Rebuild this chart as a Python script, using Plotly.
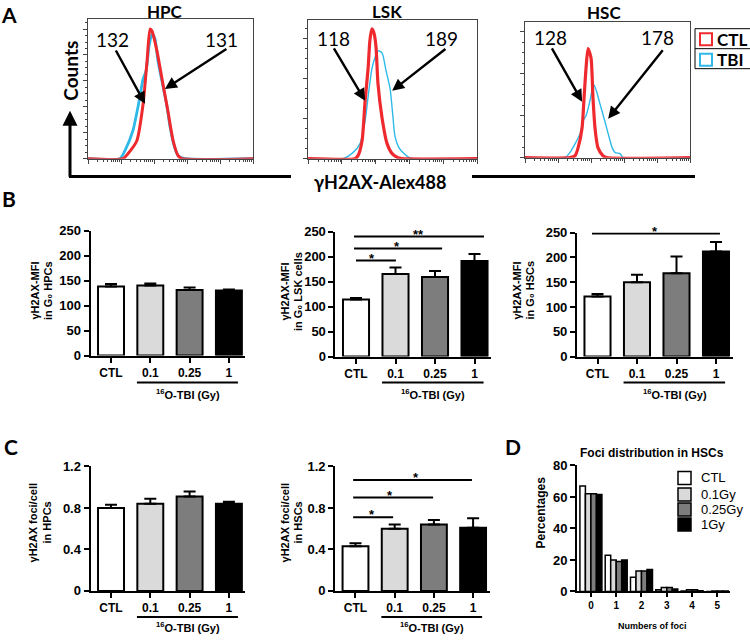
import numpy as np
import plotly.graph_objects as go

W, H = 750, 640
# measured vertical calibration of the rendered page (image_y = SY * page_y + OY)
SY, OY = 0.977, 6.3

# ---------------- Panel A : flow histograms (x in log decades, y in counts) ----------------
hpc_ctl_x = [0, 1.06, 1.21, 1.48, 1.67, 1.79, 1.88, 1.94, 2.09, 2.27, 2.42, 2.58, 2.73, 2.85, 5]
hpc_ctl_y = [0, 0, 3.8, 13.8, 42.3, 75.4, 100, 98.5, 83, 57.7, 36.9, 13.8, 2.3, 0, 0]
hpc_tbi_x = [0, 0.97, 1.12, 1.36, 1.55, 1.67, 1.76, 1.85, 1.94, 2.03, 2.12, 2.27, 2.39, 2.48, 2.61, 2.73, 2.94, 5]
hpc_tbi_y = [0, 0, 6.2, 21.5, 44.6, 61.5, 67.7, 86.9, 96.2, 92.3, 75.4, 56.2, 40.8, 25.4, 10, 2.3, 0, 0]

lsk_ctl_x = [0, 1.39, 1.48, 1.60, 1.69, 1.78, 1.83, 1.89, 1.95, 2.01, 2.07, 2.19, 2.34, 2.49, 2.66, 2.78, 5]
lsk_ctl_y = [0, 0, 3.8, 22.5, 72.5, 113.8, 147.5, 162.5, 157.5, 141, 93.8, 51.3, 18.8, 6.3, 1.3, 0, 0]
lsk_tbi_x = [0, 1.04, 1.33, 1.54, 1.69, 1.80, 1.89, 1.98, 2.07, 2.19, 2.31, 2.43, 2.51, 2.57, 2.69, 2.84, 2.99, 3.11, 5]
lsk_tbi_y = [0, 0, 7.5, 18.8, 47.5, 85, 112.5, 126.3, 135, 132.5, 110, 87.5, 53.8, 28.8, 13.8, 6.3, 1.3, 0, 0]

hsc_ctl_x = [0, 1.36, 1.52, 1.61, 1.73, 1.79, 1.85, 1.91, 2.0, 2.06, 2.12, 2.21, 2.36, 2.48, 5]
hsc_ctl_y = [0, 0, 2.4, 11.9, 35.7, 71.4, 107, 129.8, 119, 71.4, 35.7, 11.9, 2.4, 0, 0]
hsc_tbi_x = [0, 1.21, 1.36, 1.52, 1.67, 1.76, 1.85, 1.97, 2.03, 2.09, 2.18, 2.27, 2.39, 2.52, 2.64, 2.73, 2.88, 2.97, 5]
hsc_tbi_y = [0, 0, 6, 16.7, 28.6, 44, 50, 67.9, 79.8, 86.9, 77.4, 64.3, 47.6, 28.6, 11.9, 6, 4.8, 0, 0]

mfi_labels = ["132", "131", "118", "189", "128", "178"]
hist_titles = ["HPC", "LSK", "HSC"]

# ---------------- Panels B / C : bar data ----------------
dose_labels = ["CTL", "0.1", "0.25", "1"]
b_hpc_mean = [138, 140, 131, 130]
b_hpc_err = [5, 4, 5, 2]
b_lsk_mean = [114, 165, 159, 191]
b_lsk_err = [3, 13, 12, 14]
b_hsc_mean = [121, 150, 168, 212]
b_hsc_err = [5, 15, 34, 19]

c_hpc_mean = [0.80, 0.84, 0.91, 0.84]
c_hpc_err = [0.03, 0.05, 0.05, 0.02]
c_hsc_mean = [0.43, 0.60, 0.64, 0.61]
c_hsc_err = [0.03, 0.04, 0.045, 0.09]

# ---------------- Panel D : foci distribution ----------------
foci_counts = ["0", "1", "2", "3", "4", "5"]
d_series = ["CTL", "0.1Gy", "0.25Gy", "1Gy"]
d_ctl = [67, 23, 9, 1, 0.3, 0]
d_01 = [62, 20, 13, 2.5, 1, 0.2]
d_025 = [62, 19, 13, 2.5, 1, 0.2]
d_1 = [61.5, 20, 14, 1.5, 0.5, 0.3]

bar_colors = ["#ffffff", "#dadada", "#7d7d7d", "#000000"]
RED = "#ee2a2f"
CYAN = "#2fb9e8"

LF = "Lato"


def X(p):
    return p / W


def Y(t):
    return 1 - ((t - OY) / SY) / H


fig = go.Figure()

# ---------- A traces ----------
hist_sets = [
    (hpc_ctl_x, hpc_ctl_y, hpc_tbi_x, hpc_tbi_y, 3.0, 2.8),
    (lsk_ctl_x, lsk_ctl_y, lsk_tbi_x, lsk_tbi_y, 3.2, 1.4),
    (hsc_ctl_x, hsc_ctl_y, hsc_tbi_x, hsc_tbi_y, 3.2, 1.4),
]
for i, (cx, cy, tx, ty, rw, cw) in enumerate(hist_sets):
    ax = "x" if i == 0 else f"x{i+1}"
    ay = "y" if i == 0 else f"y{i+1}"
    fig.add_trace(go.Scatter(x=tx, y=ty, mode="lines", line=dict(color=CYAN, width=cw, shape="spline", smoothing=0.6),
                             xaxis=ax, yaxis=ay, showlegend=False, cliponaxis=False))
    fig.add_trace(go.Scatter(x=cx, y=cy, mode="lines", line=dict(color=RED, width=rw, shape="spline", smoothing=0.6),
                             xaxis=ax, yaxis=ay, showlegend=False, cliponaxis=False))

# ---------- B / C bar traces ----------
bar_sets = [
    (b_hpc_mean, b_hpc_err, "x4", "y4"),
    (b_lsk_mean, b_lsk_err, "x5", "y5"),
    (b_hsc_mean, b_hsc_err, "x6", "y6"),
    (c_hpc_mean, c_hpc_err, "x7", "y7"),
    (c_hsc_mean, c_hsc_err, "x8", "y8"),
]
for mean, err, ax, ay in bar_sets:
    fig.add_trace(go.Bar(
        x=list(range(len(dose_labels))), y=mean, width=0.66,
        marker=dict(color=bar_colors, line=dict(color="black", width=2)),
        error_y=dict(type="data", array=err, arrayminus=[0] * len(err), symmetric=False,
                     color="black", thickness=2, width=6),
        xaxis=ax, yaxis=ay, showlegend=False))

# ---------- D grouped bars ----------
d_vals = [d_ctl, d_01, d_025, d_1]
bw = 0.2175
for k, (name, vals) in enumerate(zip(d_series, d_vals)):
    fig.add_trace(go.Bar(
        x=list(range(len(foci_counts))), y=vals, name=name, width=bw, offset=-2 * bw + k * bw,
        marker=dict(color=bar_colors[k], line=dict(color="black", width=1.5)),
        xaxis="x9", yaxis="y9", showlegend=False))

# ---------- axes ----------
layout = dict(width=W, height=H, margin=dict(l=0, r=0, t=0, b=0), paper_bgcolor="white",
              plot_bgcolor="white", barmode="overlay")

minor_vals = [float(np.log10(m)) + k for k in range(5) for m in range(2, 10)]
hist_dom = [((88, 253), (18, 158), 108, 20, 5),
            ((308, 477), (19, 158), 174, 50, 12.5),
            ((525, 690), (21, 157), 162, 50, 12.5)]
for i, ((x0, x1), (y0, y1), ymax, dt, mdt) in enumerate(hist_dom):
    sx = "xaxis" if i == 0 else f"xaxis{i+1}"
    sy = "yaxis" if i == 0 else f"yaxis{i+1}"
    ancx = "y" if i == 0 else f"y{i+1}"
    ancy = "x" if i == 0 else f"x{i+1}"
    layout[sx] = dict(domain=[X(x0), X(x1)], anchor=ancx, range=[0, 5], showline=True, linecolor="#444",
                      linewidth=1, mirror=True, ticks="outside", tickvals=[0, 1, 2, 3, 4, 5], ticklen=4,
                      tickwidth=1, tickcolor="#444", showticklabels=False, showgrid=False, zeroline=False,
                      minor=dict(tickmode="array", tickvals=minor_vals, ticks="outside", ticklen=2, tickwidth=1,
                                 tickcolor="#444"))
    layout[sy] = dict(domain=[Y(y1), Y(y0)], anchor=ancy, range=[0, ymax], showline=True, linecolor="#444",
                      linewidth=1, mirror=True, ticks="outside", dtick=dt, ticklen=4, tickwidth=1,
                      tickcolor="#444", showticklabels=False, showgrid=False, zeroline=False,
                      minor=dict(dtick=mdt, ticks="outside", ticklen=2, tickwidth=1, tickcolor="#444"))

tickfont = dict(family="Liberation Sans", size=13, weight="bold", color="black")
xtickfont = dict(family="Liberation Sans", size=12, weight="bold", color="black")

# bar panels: (axis index, center0 px, spacing px, y0 px (value 0), ytop px, ymax, dtick)
bar_axes = [
    (4, 111, 39.3, 355, 230, 250, 50),
    (5, 356, 39.5, 356, 231, 250, 50),
    (6, 597.5, 39.5, 356, 232, 250, 50),
    (7, 111, 39.3, 590.5, 466, 1.2, 0.4),
    (8, 355.5, 39.2, 590.5, 466, 1.2, 0.4),
]
for idx, c0, sp, yb, yt, ymax, dt in bar_axes:
    layout[f"xaxis{idx}"] = dict(domain=[X(c0 - 0.52 * sp), X(c0 + 3.42 * sp)], anchor=f"y{idx}",
                                 range=[-0.52, 3.42], tickmode="array", tickvals=[0, 1, 2, 3],
                                 ticktext=dose_labels, showline=True, linecolor="black", linewidth=2,
                                 ticks="outside", ticklen=5, tickwidth=2, tickcolor="black", tickfont=xtickfont,
                                 showgrid=False, zeroline=False)
    yax = dict(domain=[Y(yb), Y(yt)], anchor=f"x{idx}", range=[0, ymax], dtick=dt, showline=True,
               linecolor="black", linewidth=2, ticks="outside", ticklen=5, tickwidth=2, tickcolor="black",
               tickfont=tickfont, showgrid=False, zeroline=False)
    if ymax < 2:
        yax["tickvals"] = [0, 0.4, 0.8, 1.2]
        yax["ticktext"] = ["0", "0.4", "0.8", "1.2"]
        yax["tickmode"] = "array"
    layout[f"yaxis{idx}"] = yax

layout["xaxis9"] = dict(domain=[X(577), X(730)], anchor="y9", range=[-0.55, 5.5], tickmode="array",
                        tickvals=list(range(6)), ticktext=foci_counts, showline=True, linecolor="black",
                        linewidth=2, ticks="outside", ticklen=4, tickwidth=2, tickcolor="black",
                        tickfont=dict(family="Liberation Sans", size=10, weight="bold", color="black"),
                        showgrid=False, zeroline=False)
layout["yaxis9"] = dict(domain=[Y(591), Y(465)], anchor="x9", range=[0, 80], dtick=20, showline=True,
                        linecolor="black", linewidth=2, ticks="outside", ticklen=5, tickwidth=2,
                        tickcolor="black", tickfont=tickfont, showgrid=False, zeroline=False)

fig.update_layout(**layout)

ann = []
shapes = []


def txt(x, y, text, size, family=LF, weight="bold", angle=0, xanchor="center", yanchor="middle", color="black"):
    ann.append(dict(x=X(x), y=Y(y), xref="paper", yref="paper", text=text, showarrow=False, textangle=angle,
                    xanchor=xanchor, yanchor=yanchor,
                    font=dict(family=family, size=size, weight=weight, color=color)))


# panel letters
txt(9, 14, "A", 21)
txt(9, 198, "B", 21)
txt(11, 446, "C", 21)
txt(513, 446, "D", 21)

# histogram titles
for t, (cx, cy) in zip(hist_titles, [(165, 11), (387, 11), (604, 12)]):
    txt(cx, cy, t, 17)

# MFI numbers and arrows (data coords of each histogram axis)
arrow_specs = [
    ("x", "y", 0.73, 92.3, 0.82, 84.6, 1.73, 42.3),
    ("x", "y", 4.06, 92.3, 4.24, 85.4, 2.33, 53.8),
    ("x2", "y2", 0.74, 151, 0.74, 140, 1.69, 72.5),
    ("x2", "y2", 3.96, 151, 4.11, 138.8, 2.49, 85),
    ("x3", "y3", 0.76, 142.9, 0.79, 132, 1.73, 66.7),
    ("x3", "y3", 4.03, 142.9, 4.21, 129.8, 2.52, 46.4),
]
for lab, (xr, yr, tx, ty, ax0, ay0, hx, hy) in zip(mfi_labels, arrow_specs):
    ann.append(dict(x=tx, y=ty, xref=xr, yref=yr, text=lab, showarrow=False, xanchor="center",
                    yanchor="middle", font=dict(family=LF, size=19, color="black")))
    ann.append(dict(x=hx, y=hy, xref=xr, yref=yr, ax=ax0, ay=ay0, axref=xr, ayref=yr, text="",
                    showarrow=True, arrowhead=2, arrowsize=1, arrowwidth=2.4, arrowcolor="black"))

# Counts + gamma axis frame
txt(71, 70, "Counts", 19, angle=-90)
ann.append(dict(x=X(70), y=Y(110), xref="paper", yref="paper", ax=0, ay=(176 - 110) / SY, text="",
                showarrow=True, arrowhead=2, arrowsize=1, arrowwidth=3, arrowcolor="black"))
shapes.append(dict(type="line", xref="paper", yref="paper", x0=X(69), x1=X(291), y0=Y(176), y1=Y(176),
                   line=dict(color="black", width=3)))
shapes.append(dict(type="line", xref="paper", yref="paper", x0=X(472), x1=X(695), y0=Y(176), y1=Y(176),
                   line=dict(color="black", width=3)))
txt(380, 181, "γH2AX-Alex488", 18)

# A legend
shapes.append(dict(type="rect", xref="paper", yref="paper", x0=X(695), x1=X(760), y0=Y(28), y1=Y(68),
                   line=dict(color="black", width=1)))
shapes.append(dict(type="line", xref="paper", yref="paper", x0=X(695), x1=X(760), y0=Y(48), y1=Y(48),
                   line=dict(color="black", width=1)))
for (yy, col, lab) in [(38.5, RED, "CTL"), (59, CYAN, "TBI")]:
    shapes.append(dict(type="rect", xref="paper", yref="paper", x0=X(700), x1=X(712), y0=Y(yy - 6),
                       y1=Y(yy + 6), line=dict(color=col, width=2)))
    txt(715, yy, lab, 17, xanchor="left")

# y titles of B/C/D
ytitles = [
    (35, 290, "γH2AX-MFI"), (47.5, 290, "in G₀ HPCs"),
    (285, 291, "γH2AX-MFI"), (297.5, 291, "in G₀ LSK cells"),
    (517, 290, "γH2AX-MFI"), (530, 290, "in G₀ HSCs"),
    (33, 523, "γH2AX foci/cell"), (47, 522, "in HPCs"),
    (285, 523, "γH2AX foci/cell"), (298, 522, "in HSCs"),
]
for x, y, t in ytitles:
    txt(x, y, t, 11, family="Liberation Sans", angle=-90)

# dose underline + "16O-TBI (Gy)"
for idx, yl, yt in [(4, 382, 393), (5, 382, 393), (6, 382, 393), (7, 616.5, 626.5), (8, 616.5, 626.5)]:
    shapes.append(dict(type="line", xref=f"x{idx}", yref="paper", x0=0.66, x1=3.23, y0=Y(yl), y1=Y(yl),
                       line=dict(color="black", width=2)))
    ann.append(dict(x=1.95, y=Y(yt), xref=f"x{idx}", yref="paper", text="<sup>16</sup>O-TBI (Gy)",
                    showarrow=False, xanchor="center", yanchor="middle",
                    font=dict(family="Liberation Sans", size=11, weight="bold", color="black")))

# significance bars
sig_axes = ["5", "5", "5", "6", "8", "8", "8"]
sig_x0 = [0.0, -0.05, -0.05, -0.14, -0.06, -0.06, -0.06]
sig_x1 = [1.01, 2.18, 3.24, 3.1, 0.96, 1.98, 2.97]
sig_y = [192, 216, 240, 248, 0.71, 0.90, 1.07]
sig_sx = [0.41, 1.04, 1.59, 1.46, 0.42, 0.88, 1.54]
sig_lab = ["*", "*", "**", "*", "*", "*", "*"]
for a, x0, x1, yv, sx, lab in zip(sig_axes, sig_x0, sig_x1, sig_y, sig_sx, sig_lab):
    shapes.append(dict(type="line", xref=f"x{a}", yref=f"y{a}", x0=x0, x1=x1, y0=yv, y1=yv,
                       line=dict(color="black", width=2)))
    ann.append(dict(x=sx, y=yv, xref=f"x{a}", yref=f"y{a}", text=lab, showarrow=False, xanchor="center",
                    yanchor="bottom", yshift=-7,
                    font=dict(family="Liberation Sans", size=13, weight="bold", color="black")))

# D title, axis titles, legend
txt(652, 452, "Foci distribution in HSCs", 12, family="Liberation Sans")
txt(541, 512, "Percentages", 12, family="Liberation Sans", angle=-90)
txt(652, 626, "Numbers of foci", 9, family="Liberation Sans")
for k, (lab, yy) in enumerate(zip(d_series, [477.5, 494, 509, 524])):
    shapes.append(dict(type="rect", xref="paper", yref="paper", x0=X(678), x1=X(691), y0=Y(yy - 6.5),
                       y1=Y(yy + 6.5), fillcolor=bar_colors[k], line=dict(color="black", width=1.5)))
    txt(699, yy, lab, 13, family="Liberation Sans", weight="normal", xanchor="left")

fig.update_layout(annotations=ann, shapes=shapes)

fig.write_html("out.html", config={"displayModeBar": False},
               post_script="document.body.style.margin='0';")
